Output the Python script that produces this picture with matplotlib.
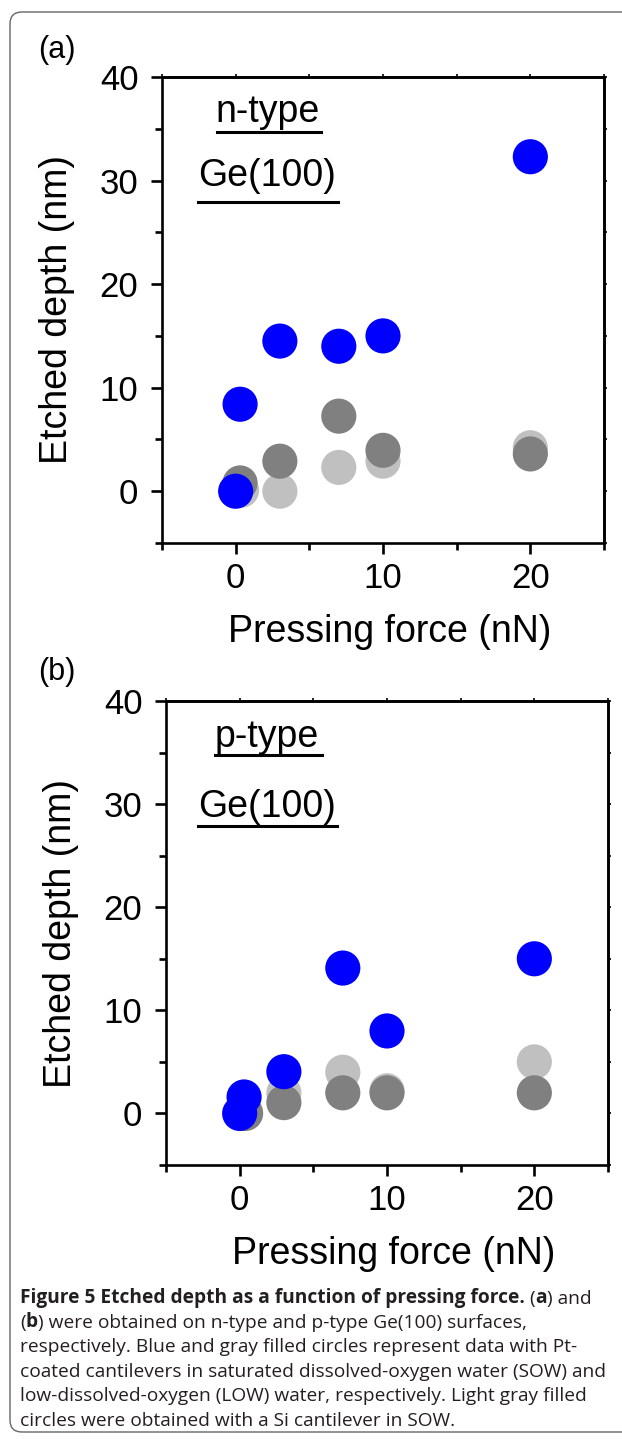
import matplotlib
matplotlib.use("Agg")
import matplotlib.pyplot as plt
from matplotlib.patches import FancyBboxPatch
from matplotlib.transforms import IdentityTransform

plt.rcParams['font.family'] = ['Liberation Sans', 'DejaVu Sans']

# panel (a) n-type Ge(100)
force_blue_a = [0.0, 0.3, 3, 7, 10, 20]
depth_blue_a = [0.0, 8.4, 14.5, 14.0, 15.0, 32.3]
force_dark_a = [0.3, 3, 7, 10, 20]
depth_dark_a = [0.8, 2.9, 7.25, 3.95, 3.6]
force_light_a = [0.4, 3, 7, 10, 20]
depth_light_a = [0.1, 0.0, 2.3, 2.9, 4.2]

# panel (b) p-type Ge(100)
force_blue_b = [0.0, 0.3, 3, 7, 10, 20]
depth_blue_b = [0.0, 1.6, 4.05, 14.1, 8.0, 15.0]
force_dark_b = [0.4, 3, 7, 10, 20]
depth_dark_b = [0.0, 1.05, 2.0, 2.0, 2.0]
force_light_b = [0.4, 3, 7, 10, 20]
depth_light_b = [0.1, 2.0, 4.0, 2.2, 5.0]

x_ticks = [0, 10, 20]
y_ticks = [0, 10, 20, 30, 40]

fig = plt.figure(figsize=(6.22, 14.39), dpi=100)

# rounded frame around the figure
frame = FancyBboxPatch((10, 7), 700, 1420, boxstyle="round,pad=0,rounding_size=12",
                       transform=IdentityTransform(), fill=False,
                       edgecolor="#666666", linewidth=1.0)
fig.add_artist(frame)


def make_panel(rect, fb, db, fd, dd, fl, dl, label1, t1, u1, t2, u2):
    ax = fig.add_axes(rect)
    ax.scatter(fl, dl, s=640, color="#c0c0c0", edgecolors="none", zorder=2, clip_on=False)
    ax.scatter(fd, dd, s=640, color="#808080", edgecolors="none", zorder=3, clip_on=False)
    ax.scatter(fb, db, s=640, color="#0000ff", edgecolors="none", zorder=4, clip_on=False)
    ax.set_xlim(-5, 25)
    ax.set_ylim(-5, 40)
    ax.set_xticks(x_ticks)
    ax.set_yticks(y_ticks)
    ax.set_xticks(range(-5, 26, 10), minor=True)
    ax.set_yticks(range(-5, 41, 10), minor=True)
    for sp in ax.spines.values():
        sp.set_linewidth(1.9)
    ax.tick_params(which="major", direction="out", length=8, width=1.9,
                   labelsize=25, pad=6)
    ax.tick_params(axis="y", which="major", pad=9)
    ax.tick_params(which="minor", direction="out", length=5, width=1.9)
    # tiny ticks on the right and top frame
    sy = ax.secondary_yaxis("right")
    sy.set_yticks(range(-5, 41, 5))
    sy.tick_params(length=2, width=1.2, labelright=False)
    sy.spines["right"].set_linewidth(1.9)
    sx = ax.secondary_xaxis("top")
    sx.set_xticks(range(-5, 26, 5))
    sx.tick_params(length=2, width=1.2, labeltop=False)
    sx.spines["top"].set_linewidth(1.9)
    ax.set_xlabel("Pressing force (nN)", fontsize=27)
    ax.set_ylabel("Etched depth (nm)", fontsize=27)
    ax.xaxis.set_label_coords(0.515, -0.152)
    ax.yaxis.set_label_coords(-0.196, 0.5)
    ax.text(t1[0], t1[1], label1, transform=ax.transAxes, fontsize=27, va="baseline")
    ax.plot(u1[0], [u1[1], u1[1]], color="black", lw=2.2, transform=ax.transAxes, clip_on=False)
    ax.text(t2[0], t2[1], "Ge(100)", transform=ax.transAxes, fontsize=27, va="baseline")
    ax.plot(u2[0], [u2[1], u2[1]], color="black", lw=2.2, transform=ax.transAxes, clip_on=False)
    return ax


make_panel([162 / 622, 1 - 543 / 1439, 442 / 622, 466 / 1439],
           force_blue_a, depth_blue_a, force_dark_a, depth_dark_a, force_light_a, depth_light_a,
           "n-type", (0.122, 0.903), ([0.124, 0.360], 0.882),
           (0.082, 0.766), ([0.081, 0.398], 0.732))
make_panel([166 / 622, 1 - 1165 / 1439, 442 / 622, 464 / 1439],
           force_blue_b, depth_blue_b, force_dark_b, depth_dark_b, force_light_b, depth_light_b,
           "p-type", (0.109, 0.901), ([0.111, 0.353], 0.884),
           (0.072, 0.750), ([0.072, 0.388], 0.731))

fig.text(38 / 622, 1 - 58 / 1439, "(a)", fontsize=22, va="baseline")
fig.text(38 / 622, 1 - 680 / 1439, "(b)", fontsize=22, va="baseline")

# caption, built from pieces so bold and regular parts sit on one baseline
cax = fig.add_axes([0, 0, 1, 1])
cax.axis("off")
cap_font = "Open Sans"
cap_size = 13.8
cap_color = "#231f20"
caption_lines = [
    [("Figure 5 Etched depth as a function of pressing force.", "bold"), (" (", "normal"),
     ("a", "bold"), (") and", "normal")],
    [("(", "normal"), ("b", "bold"), (") were obtained on n-type and p-type Ge(100) surfaces,", "normal")],
    [("respectively. Blue and gray filled circles represent data with Pt-", "normal")],
    [("coated cantilevers in saturated dissolved-oxygen water (SOW) and", "normal")],
    [("low-dissolved-oxygen (LOW) water, respectively. Light gray filled", "normal")],
    [("circles were obtained with a Si cantilever in SOW.", "normal")],
]
y0 = 1303
for i, line in enumerate(caption_lines):
    y = 1 - (y0 + i * 24.6) / 1439
    prev = None
    for txt, wt in line:
        if prev is None:
            prev = cax.text(20 / 622, y, txt, transform=fig.transFigure, fontsize=cap_size,
                            family=[cap_font, "DejaVu Sans"], fontweight=wt,
                            color=cap_color, va="baseline", ha="left")
        else:
            prev = cax.annotate(txt, xy=(1, 0), xycoords=prev, va="bottom", ha="left",
                                fontsize=cap_size, family=[cap_font, "DejaVu Sans"],
                                fontweight=wt, color=cap_color)

fig.savefig("out.png", dpi=100)
